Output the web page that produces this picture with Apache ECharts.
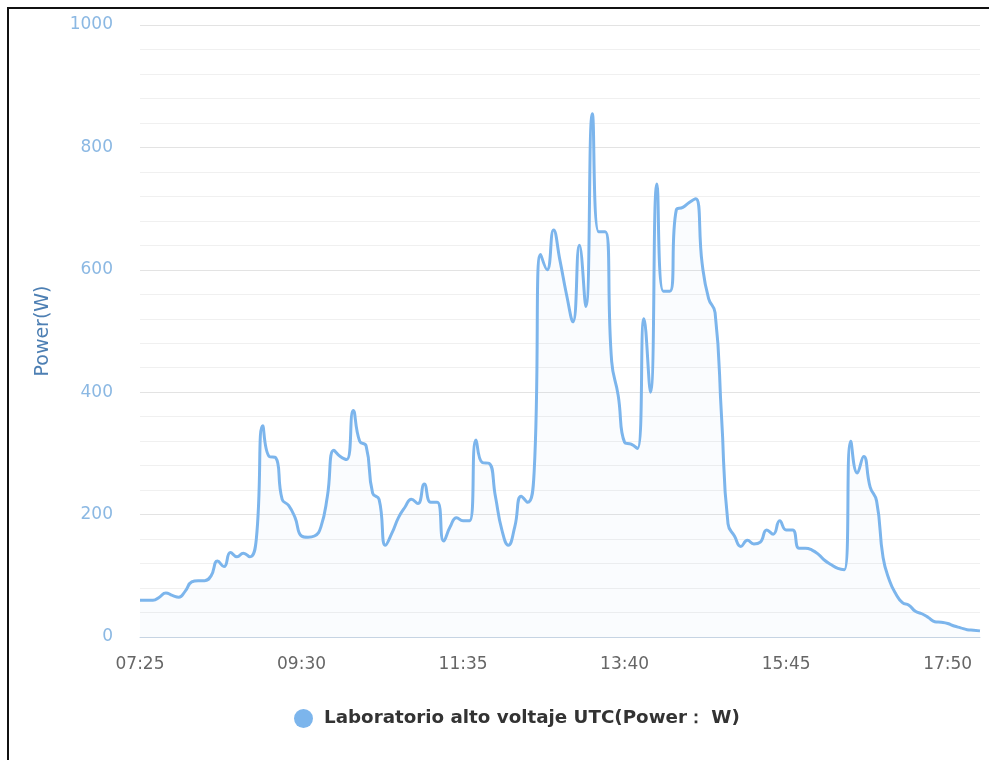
<!DOCTYPE html>
<html>
<head>
<meta charset="utf-8">
<script src="https://cdn.jsdelivr.net/npm/echarts@6/dist/echarts.min.js"></script>
<style>
  html, body { margin: 0; padding: 0; background: #fff; }
  #chart { width: 989px; height: 760px; }
  .frame {
    position: absolute; left: 7px; top: 7px; width: 1000px; height: 800px;
    border-left: 2px solid #111; border-top: 2px solid #111;
    pointer-events: none;
  }
</style>
</head>
<body>
<div id="chart"></div>
<div class="frame"></div>
<script>
// 5-minute samples, 07:25 - 18:15
const times = [
  '07:25', '07:30', '07:35', '07:40', '07:45', '07:50', '07:55', '08:00', '08:05', '08:10',
  '08:15', '08:20', '08:25', '08:30', '08:35', '08:40', '08:45', '08:50', '08:55', '09:00',
  '09:05', '09:10', '09:15', '09:20', '09:25', '09:30', '09:35', '09:40', '09:45', '09:50',
  '09:55', '10:00', '10:05', '10:10', '10:15', '10:20', '10:25', '10:30', '10:35', '10:40',
  '10:45', '10:50', '10:55', '11:00', '11:05', '11:10', '11:15', '11:20', '11:25', '11:30',
  '11:35', '11:40', '11:45', '11:50', '11:55', '12:00', '12:05', '12:10', '12:15', '12:20',
  '12:25', '12:30', '12:35', '12:40', '12:45', '12:50', '12:55', '13:00', '13:05', '13:10',
  '13:15', '13:20', '13:25', '13:30', '13:35', '13:40', '13:45', '13:50', '13:55', '14:00',
  '14:05', '14:10', '14:15', '14:20', '14:25', '14:30', '14:35', '14:40', '14:45', '14:50',
  '14:55', '15:00', '15:05', '15:10', '15:15', '15:20', '15:25', '15:30', '15:35', '15:40',
  '15:45', '15:50', '15:55', '16:00', '16:05', '16:10', '16:15', '16:20', '16:25', '16:30',
  '16:35', '16:40', '16:45', '16:50', '16:55', '17:00', '17:05', '17:10', '17:15', '17:20',
  '17:25', '17:30', '17:35', '17:40', '17:45', '17:50', '17:55', '18:00', '18:05', '18:10',
  '18:15'
]

const power = [
  60, 60, 60, 65, 72, 68, 65, 75, 90, 92,
  92, 100, 124, 115, 138, 131, 137, 131, 160, 345,
  295, 293, 225, 215, 195, 165, 163, 165, 180, 230,
  305, 295, 290, 370, 320, 312, 235, 225, 150, 170,
  195, 212, 225, 218, 250, 220, 220, 157, 180, 195,
  190, 190, 322, 285, 284, 230, 175, 150, 180, 230,
  220, 270, 625, 600, 665, 615, 560, 515, 640, 540,
  855, 662, 662, 450, 395, 318, 315, 308, 520, 400,
  740, 565, 565, 698, 702, 710, 716, 610, 553, 530,
  360, 185, 165, 148, 158, 152, 155, 175, 168, 190,
  175, 175, 145, 145, 142, 135, 125, 118, 112, 110,
  320, 268, 295, 245, 222, 130, 92, 70, 56, 52,
  42, 38, 32, 25, 24, 22, 18, 15, 12, 11, 10
]

const seriesName = 'Laboratorio alto voltaje UTC(Power： W)'
const yTicks = { min: 0, max: 1000, step: 200 }

const chart = echarts.init(document.getElementById('chart'))

chart.setOption({
  animation: false,
  backgroundColor: '#fff',
  textStyle: { fontFamily: 'DejaVu Sans' },
  grid: { left: 140, right: 9, top: 25, bottom: 123 },
  legend: {
    data: [seriesName],
    top: 704,
    left: 289,
    icon: 'circle',
    itemWidth: 19,
    itemHeight: 19,
    textStyle: { color: '#333', fontSize: 18.3, fontWeight: 'bold', padding: [0, 0, 0, 6] },
  },
  xAxis: {
    type: 'category',
    boundaryGap: false,
    data: times,
    axisLine: { lineStyle: { color: '#c6d4e3', width: 1 } },
    axisTick: { show: false },
    axisLabel: { interval: 24, color: '#666', fontSize: 17, margin: 19 },
  },
  yAxis: {
    type: 'value',
    min: yTicks.min,
    max: yTicks.max,
    interval: yTicks.step,
    name: 'Power(W)',
    nameLocation: 'middle',
    nameGap: 87,
    nameTextStyle: { color: '#4d7fb3', fontSize: 19 },
    axisLine: { show: false },
    axisTick: { show: false },
    axisLabel: { color: '#8bb8e3', fontSize: 17, margin: 27, formatter: v => String(v) },
    splitLine: { lineStyle: { color: '#e3e3e3' } },
    minorTick: { show: false, splitNumber: 5 },
    minorSplitLine: { show: true, lineStyle: { color: '#f0f0f0' } },
  },
  series: [
    {
      name: seriesName,
      type: 'line',
      smooth: 0.5,
      symbol: 'none',
      data: power,
      itemStyle: { color: '#7cb5ec' },
      lineStyle: { color: '#7cb5ec', width: 3 },
      areaStyle: { color: 'rgba(124,181,236,0.05)' },
    },
  ],
})
</script>
</body>
</html>
